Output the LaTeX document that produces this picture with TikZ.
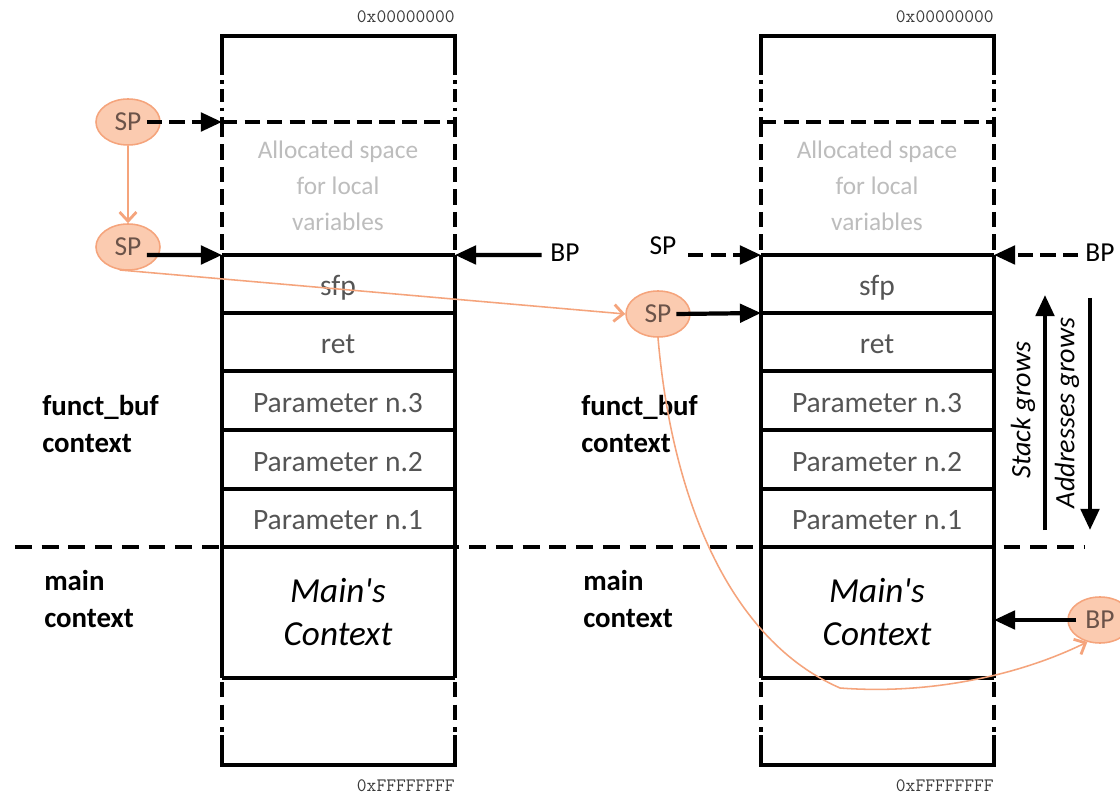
\documentclass[tikz,border=0pt]{standalone}
\usepackage{fontspec}
\setmainfont{Carlito}
\newfontfamily\plainquotes{Carlito}[Ligatures=TeXOff]
\usetikzlibrary{arrows.meta,shapes.geometric}
\definecolor{ptrfill}{HTML}{FBCBB0}
\definecolor{ptredge}{HTML}{F5A47C}
\definecolor{ptrtext}{HTML}{6B5349}
\definecolor{celltext}{HTML}{555555}
\definecolor{alloctext}{HTML}{BDBDBD}
\definecolor{addrtext}{HTML}{3A3A3A}
\tikzset{
  stk/.style={line width=2.3pt},
  stkthick/.style={line width=3pt},
  stkdash/.style={line width=2.6pt, dash pattern=on 11pt off 5pt},
  stkdashdot/.style={line width=2.6pt, dash pattern=on 9pt off 4pt on 2.5pt off 4pt},
  cell/.style={text=celltext, font=\fontsize{21}{25}\selectfont, inner sep=0pt},
  alloc/.style={text=alloctext, align=center, font=\fontsize{18}{25.6}\selectfont, inner sep=0pt},
  mainctx/.style={align=center, font=\plainquotes\itshape\fontsize{25}{30.6}\selectfont, inner sep=0pt},
  addr/.style={text=addrtext, font=\ttfamily\fontsize{13.5}{15}\selectfont, inner sep=0pt, anchor=east},
  ctxlabel/.style={font=\bfseries\fontsize{20.5}{27}\selectfont, anchor=west, inner sep=0pt, align=left},
  ptr/.style={ellipse, draw=ptredge, fill=ptrfill, line width=1.1pt, minimum width=1.6cm,
    minimum height=1.15cm, inner sep=0pt, text=ptrtext, font=\fontsize{19.5}{22}\selectfont},
  plainptr/.style={inner sep=0pt, font=\fontsize{19.5}{22}\selectfont},
  solidarrow/.style={line width=3pt, -{Triangle[length=15pt,width=13pt]}},
  dasharrow/.style={solidarrow, dash pattern=on 11pt off 5pt},
  move/.style={draw=ptredge, line width=1.1pt, -{Straight Barb[length=6.5pt,width=12pt,line width=2pt]}},
  growtext/.style={font=\itshape\fontsize{20}{24}\selectfont, rotate=90, inner sep=0pt},
}
\begin{document}
\begin{tikzpicture}[x=0.025cm, y=-0.025cm]
\useasboundingbox[fill=white] (0,0) rectangle (1120,800);

% boundary between the two contexts
\draw[line width=2.8pt, dash pattern=on 12pt off 7pt] (15,547) -- (1085,547);

% the two stack snapshots
\foreach \i/\dx in {1/0,2/539}{
  \begin{scope}[shift={(\dx,0)}]
    \draw[stkthick] (222,62) -- (222,36) -- (455,36) -- (455,62);
    \draw[stkdashdot] (222,62) -- (222,122);
    \draw[stkdashdot] (455,62) -- (455,122);
    \draw[stkdash] (222,122) -- (455,122);
    \draw[stkdash] (222,122) -- (222,255);
    \draw[stkdash] (455,122) -- (455,255);
    \draw[stk] (222,255) -- (222,678);
    \draw[line width=3.4pt] (455,255) -- (455,678);
    \foreach \yy in {313,371,430,489,678}
      \draw[stk] (222,\yy) -- (455,\yy);
    \foreach \yy in {255,547}
      \draw[stkthick] (222,\yy) -- (455,\yy);
    \draw[stkdash] (222,682) -- (222,732);
    \draw[stkdash] (455,682) -- (455,732);
    \draw[stkthick] (222,735) -- (222,765) -- (455,765) -- (455,735);

    \node[addr] (s\i-lo) at (455,17) {0x00000000};
    \node[addr] (s\i-hi) at (455,786) {0xFFFFFFFF};
    \node[alloc] (s\i-alloc) at (338,186) {Allocated space\\for local\\variables};
    \node[cell] (s\i-sfp) at (338,288) {sfp};
    \node[cell] (s\i-ret) at (338,344) {ret};
    \node[cell] (s\i-p3) at (338,403) {Parameter n.3};
    \node[cell] (s\i-p2) at (338,462) {Parameter n.2};
    \node[cell] (s\i-p1) at (338,520) {Parameter n.1};
    \node[mainctx] (s\i-main) at (338,612) {Main's\\Context};

    \node[ctxlabel] (s\i-fctx) at (42,424) {funct\_buf\\context};
    \node[ctxlabel] (s\i-mctx) at (44,599) {main\\context};

    \coordinate (s\i-allocL) at (222,122);
    \coordinate (s\i-frameL) at (222,255);
    \coordinate (s\i-frameR) at (455,255);
    \coordinate (s\i-retL) at (222,313);
    \coordinate (s\i-mainR) at (455,620);
  \end{scope}
}

% first snapshot: pointers
\node[ptr] (sp1) at (128,122) {SP};
\node[ptr] (sp2) at (128,247) {SP};
\node[plainptr] (bp1) at (565,253) {BP};
\draw[dasharrow] ([xshift=13.5pt]sp1.center) -- (s1-allocL);
\draw[solidarrow] ([xshift=13.5pt,yshift=-5.7pt]sp2.center) -- (s1-frameL);
\draw[solidarrow] ([xshift=-6pt,yshift=-1.4pt]bp1.west) -- (s1-frameR);
\draw[move] (sp1.south) -- (sp2.north);

% second snapshot: pointers
\node[plainptr] (spL) at (663,246) {SP};
\node[plainptr] (bpL) at (1100,253) {BP};
\node[ptr] (sp3) at (658,314) {SP};
\node[ptr] (bp2) at (1100,620) {BP};
\coordinate (spL-out) at (688,255);
\coordinate (bpL-out) at (1078,255);
\draw[dasharrow] (spL-out) -- (s2-frameL);
\draw[dasharrow] (bpL-out) -- (s2-frameR);
\draw[solidarrow] ([xshift=13pt]sp3.center) -- (s2-retL);
\draw[solidarrow] ([xshift=-17pt]bp2.center) -- (s2-mainR);

% pointer moves between the snapshots
\draw[move] (sp2.250) -- (sp3.west);
\draw[move] (sp3.south) .. controls (672,500) and (730,640) .. (840,688)
  .. controls (930,695) and (1020,675) .. (bp2.240);

% growth directions
\coordinate (sg-from) at (1045,530);
\coordinate (sg-to) at (1045,295);
\coordinate (ag-from) at (1090,298);
\coordinate (ag-to) at (1090,530);
\draw[solidarrow] (sg-from) -- (sg-to);
\draw[solidarrow] (ag-from) -- (ag-to);
\node[growtext] (sg) at (1023,410) {Stack grows};
\node[growtext] (ag) at (1067,413) {Addresses grows};
\end{tikzpicture}
\end{document}
